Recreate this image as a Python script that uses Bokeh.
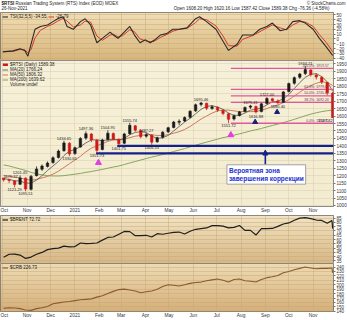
import numpy as np
import pandas as pd
from bokeh.plotting import figure
from bokeh.layouts import column
from bokeh.models import (Range1d, FixedTicker, Label, Legend, LegendItem, Arrow,
                          NormalHead, ColumnDataSource)
from bokeh.core.properties import value, field
from bokeh.embed import file_html
from bokeh.resources import INLINE

FONT = "Liberation Sans"

# ---------------- data ----------------
week_dates = pd.date_range("2020-10-02", periods=61, freq="7D")   # weekly bars (Fridays)

rts_open = [1185, 1172, 1165, 1142, 1183, 1108, 1200, 1243, 1262, 1288,
            1322, 1368, 1418, 1348, 1392, 1452, 1480, 1438, 1375, 1442,
            1483, 1443, 1418, 1482, 1535, 1503, 1465, 1472, 1428, 1457,
            1494, 1524, 1558, 1567, 1592, 1635, 1678, 1686, 1650, 1660,
            1638, 1615, 1580, 1604, 1630, 1660, 1665, 1630, 1684, 1716,
            1700, 1692, 1765, 1820, 1860, 1885, 1910, 1876, 1860, 1826, 1755]
rts_high = [1179.37, 1180, 1170, 1201.45, 1190, 1205, 1262, 1275, 1295, 1330,
            1375, 1434.65, 1425, 1395, 1458, 1497.36, 1486, 1445, 1448, 1504.95,
            1490, 1450, 1488, 1555.74, 1540, 1510, 1487.27, 1478, 1462, 1498,
            1528, 1568, 1578, 1598, 1640, 1684, 1695.46, 1690, 1672, 1665,
            1645, 1622, 1610, 1635, 1665, 1675.41, 1670, 1688, 1727.00, 1722,
            1712, 1768, 1825, 1866, 1890, 1934.21, 1915, 1885, 1866, 1830, 1762]
rts_low = [1160, 1150, 1121.29, 1138, 1095.51, 1100, 1195, 1232, 1255, 1280,
           1315, 1360, 1330.65, 1340, 1388, 1440, 1425, 1351.73, 1370, 1436,
           1438, 1401.75, 1412, 1475, 1495, 1450, 1455, 1406.33, 1420, 1448,
           1486, 1518, 1540, 1560, 1585, 1628, 1665, 1640, 1642, 1628,
           1605, 1551.72, 1570, 1598, 1625, 1648, 1616.88, 1625, 1678, 1695,
           1680.40, 1688, 1758, 1810, 1850, 1875, 1865, 1845, 1815, 1740, 1587.42]
rts_close = [1172, 1168, 1140, 1185, 1110, 1195, 1245, 1265, 1285, 1320,
             1365, 1420, 1345, 1388, 1450, 1482, 1440, 1370, 1440, 1485,
             1445, 1415, 1480, 1538, 1505, 1462, 1475, 1425, 1455, 1492,
             1522, 1560, 1565, 1590, 1632, 1676, 1688, 1652, 1662, 1640,
             1618, 1578, 1602, 1628, 1658, 1668, 1628, 1682, 1718, 1702,
             1690, 1762, 1818, 1858, 1882, 1912, 1878, 1862, 1828, 1758, 1589.38]

ma20 = [1180, 1175, 1165, 1165, 1150, 1150, 1170, 1200, 1235, 1265,
        1295, 1335, 1365, 1375, 1395, 1420, 1440, 1440, 1435, 1440,
        1445, 1440, 1450, 1475, 1490, 1495, 1490, 1465, 1450, 1455,
        1470, 1500, 1530, 1560, 1585, 1615, 1645, 1665, 1670, 1660,
        1645, 1620, 1605, 1605, 1620, 1640, 1645, 1655, 1675, 1695,
        1700, 1715, 1745, 1785, 1825, 1860, 1880, 1885, 1865, 1830, 1766.24]
ma50 = [1200, 1195, 1190, 1185, 1175, 1170, 1175, 1185, 1195, 1210,
        1230, 1255, 1280, 1305, 1330, 1360, 1385, 1400, 1415, 1430,
        1440, 1440, 1445, 1455, 1465, 1470, 1475, 1475, 1470, 1470,
        1475, 1485, 1495, 1510, 1530, 1555, 1580, 1600, 1620, 1635,
        1640, 1640, 1635, 1630, 1630, 1630, 1630, 1640, 1650, 1665,
        1675, 1690, 1710, 1735, 1760, 1785, 1805, 1820, 1830, 1825, 1806.32]
ma200 = [1272, 1265, 1255, 1245, 1235, 1222, 1212, 1205, 1200, 1198,
         1198, 1200, 1205, 1210, 1215, 1222, 1228, 1235, 1242, 1250,
         1258, 1265, 1275, 1285, 1295, 1305, 1315, 1325, 1333, 1342,
         1352, 1362, 1372, 1382, 1393, 1404, 1415, 1425, 1435, 1445,
         1455, 1463, 1472, 1481, 1490, 1500, 1508, 1517, 1527, 1537,
         1546, 1556, 1567, 1578, 1590, 1602, 1613, 1622, 1630, 1636, 1639.62]

# high / low annotations
hi_dates = ["2020-10-02", "2020-10-23", "2020-12-18", "2021-01-15", "2021-02-12",
            "2021-03-12", "2021-04-02", "2021-06-11", "2021-08-13", "2021-09-03", "2021-10-22"]
hi_vals = [1179.37, 1201.45, 1434.65, 1497.36, 1504.95,
           1555.74, 1487.27, 1695.46, 1675.41, 1727.00, 1934.21]
lo_dates = ["2020-10-16", "2020-10-30", "2020-12-25", "2021-01-29", "2021-02-26",
            "2021-04-09", "2021-07-16", "2021-08-20", "2021-09-17", "2021-11-26"]
lo_vals = [1121.29, 1095.51, 1330.65, 1351.73, 1401.75,
           1406.33, 1551.72, 1616.88, 1680.40, 1587.42]

# Fibonacci retracement
fib_low, fib_high = 1551.72, 1919.57
fib_pcts = [0.0, 38.2, 50.0, 61.8, 100.0]
fib_start, fib_end = "2021-07-19", "2021-11-27"
fib_label_date = "2021-11-21"

# support lines
support_levels = [1400, 1350]
support_starts = ["2021-02-24", "2021-01-28"]
support_end = "2021-11-27"

# signal markers
magenta_dates = ["2021-01-31", "2021-07-19"]
magenta_prices = [1287, 1473]
navy_dates = ["2021-08-19", "2021-09-16"]
navy_prices = [1560, 1627]

# note box and arrow
box_date, box_price = "2021-07-14", 1273
box_text = "Вероятная зона\nзавершения коррекции"
arrow_date, arrow_from, arrow_to = "2021-09-01", 1273, 1372

# TSI
tsi_dates = ["2020-10-01", "2020-10-14", "2020-10-23", "2020-10-29", "2020-11-02", "2020-11-06",
             "2020-11-11", "2020-11-18", "2020-11-27", "2020-12-04", "2020-12-10", "2020-12-17",
             "2020-12-22", "2020-12-30", "2021-01-08", "2021-01-14", "2021-01-21", "2021-01-29",
             "2021-02-05", "2021-02-15", "2021-02-19", "2021-02-25", "2021-03-03", "2021-03-12",
             "2021-03-18", "2021-03-25", "2021-04-01", "2021-04-07", "2021-04-12", "2021-04-20",
             "2021-04-28", "2021-05-06", "2021-05-14", "2021-05-24", "2021-06-04", "2021-06-09",
             "2021-06-18", "2021-06-30", "2021-07-09", "2021-07-16", "2021-07-27", "2021-08-03",
             "2021-08-16", "2021-08-25", "2021-09-03", "2021-09-10", "2021-09-20", "2021-09-28",
             "2021-10-06", "2021-10-15", "2021-10-22", "2021-11-01", "2021-11-09", "2021-11-18",
             "2021-11-26"]
tsi_vals = [-27, -25, -20.5, -24, -36, -11, 20, 26, 29, 36, 42, 46, 26, 20, 36, 42, 29, -8,
            1, 14, 8, 1, 11, 26, 8, -8, -2, -8, -3, 8, 11, 20, 20, 23, 42, 46, 36, 20, -5,
            -24, -11, 8, 8, 20, 26, 33, 17, 20, 36, 38, 33, 20, 1, -17, -34.55]
tsi_sig = [-26, -26, -22, -23, -29, -22, 2, 18, 26, 31, 37, 43, 37, 25, 29, 37, 35, 6,
           -3, 8, 10, 4, 7, 19, 15, 0, -4, -6, -5, 3, 9, 16, 20, 22, 34, 42, 40, 27, 6,
           -14, -15, -1, 7, 15, 23, 29, 23, 19, 29, 36, 35, 26, 9, -8, -26.79]

# commodities (weekly + last two days)
cmd_dates = [d.strftime("%Y-%m-%d") for d in week_dates[:-1]] + ["2021-11-25", "2021-11-26"]
brent = [39.3, 42.8, 42.9, 41.8, 37.9, 39.5, 42.8, 44.9, 48.2, 49.3,
         50.0, 52.3, 51.3, 51.8, 55.9, 55.1, 55.4, 55.9, 59.3, 62.4,
         62.9, 66.1, 69.4, 69.2, 64.5, 64.6, 64.9, 62.9, 66.8, 66.1,
         67.3, 68.3, 68.7, 66.4, 69.6, 71.9, 72.7, 73.5, 76.2, 76.2,
         75.6, 73.6, 74.1, 76.3, 70.7, 70.6, 65.2, 72.7, 72.6, 72.9,
         75.3, 78.1, 79.3, 82.4, 84.9, 85.5, 84.4, 82.7, 82.2, 78.9,
         82.2, 72.72]
crb = [146.5, 148, 147.5, 146, 143, 142, 146, 148, 151, 157,
       159, 161, 162, 164, 166, 167, 168, 172, 175, 180,
       185, 189, 190, 188, 186, 182, 184, 186, 190, 196,
       200, 199, 197, 200, 203, 205, 206, 209, 211, 213,
       210, 206, 212, 213, 209, 208, 206, 212, 216, 218,
       221, 227, 230, 234, 237, 240, 238, 236, 237, 237,
       238, 226.73]

month_starts = ["2020-10-01", "2020-11-01", "2020-12-01", "2021-01-01", "2021-02-01",
                "2021-03-01", "2021-04-01", "2021-05-01", "2021-06-01", "2021-07-01",
                "2021-08-01", "2021-09-01", "2021-10-01", "2021-11-01"]
month_labels = ["Oct", "Nov", "Dec", "2021", "Feb", "Mar", "Apr", "May", "Jun", "Jul",
                "Aug", "Sep", "Oct", "Nov"]

tsi_ticks = [-40, -30, -20, -10, 0, 10, 20, 30, 40, 50]
rts_ticks = list(range(1000, 1951, 50))
brent_ticks = [35, 40, 45, 50, 55, 60, 65, 70, 75, 80, 85]
crb_ticks = [140, 150, 160, 170, 180, 190, 200, 210, 220, 230, 240]

# ---------------- helpers ----------------
def ms(d):
    return int(pd.Timestamp(d).timestamp() * 1000)

X0, X1 = ms("2020-09-28"), ms("2021-11-27")
tick_ms = [ms(d) for d in month_starts]
overrides = {t: lab for t, lab in zip(tick_ms, month_labels)}
DAY = 86400000


def add_gradient(p, top, bot, y0, y1):
    n = 64
    t = np.linspace(0, 1, n)[:, None]
    rgb = np.array(bot)[None, :] * (1 - t) + np.array(top)[None, :] * t
    img = np.zeros((n, 1), dtype=np.uint32)
    v = img.view(dtype=np.uint8).reshape((n, 1, 4))
    v[:, 0, 0] = rgb[:, 0]
    v[:, 0, 1] = rgb[:, 1]
    v[:, 0, 2] = rgb[:, 2]
    v[:, 0, 3] = 255
    p.image_rgba(image=[img], x=X0, y=y0, dw=X1 - X0, dh=y1 - y0, level="image")


def make_fig(fh, y0, y1, ticks, xaxis, top, bot, grid_color):
    p = figure(frame_width=333, frame_height=fh,
               x_range=Range1d(X0, X1), y_range=Range1d(y0, y1),
               x_axis_type="datetime",
               x_axis_location="below" if xaxis else None,
               y_axis_location="right", output_backend="svg", toolbar_location=None,
               min_border_left=0, min_border_right=0, min_border_top=0, min_border_bottom=0,
               border_fill_color="white", outline_line_color="#6a6a6a")
    add_gradient(p, top, bot, y0, y1)
    ya = p.yaxis[0]
    ya.ticker = FixedTicker(ticks=ticks)
    ya.major_label_text_font = FONT
    ya.major_label_text_font_size = "4.6px"
    ya.major_label_text_color = "#333333"
    ya.major_label_standoff = 1
    ya.major_tick_out = 2
    ya.major_tick_in = 0
    ya.major_tick_line_color = "#777777"
    ya.minor_tick_line_color = None
    ya.axis_line_color = None
    if xaxis:
        xa = p.xaxis[0]
        xa.ticker = FixedTicker(ticks=tick_ms)
        xa.major_label_overrides = overrides
        xa.major_label_text_font = FONT
        xa.major_label_text_font_size = "4.8px"
        xa.major_label_text_color = "#333333"
        xa.major_label_text_align = "left"
        xa.major_label_standoff = 1
        xa.major_tick_out = 0
        xa.major_tick_in = 0
        xa.minor_tick_line_color = None
        xa.axis_line_color = None
    p.xgrid.ticker = FixedTicker(ticks=tick_ms)
    for g in (p.xgrid, p.ygrid):
        g.grid_line_color = grid_color
        g.grid_line_width = 0.6
        g.grid_line_alpha = 0.8
    return p


def small_legend(p, items, orientation="vertical"):
    lg = Legend(items=items, location="top_left", orientation=orientation,
                label_text_font=FONT, label_text_font_size="4.5px", label_text_color="#222222",
                glyph_height=3, glyph_width=6, label_height=3, label_standoff=2,
                spacing=0, padding=1, margin=1,
                background_fill_alpha=0, border_line_alpha=0)
    p.add_layout(lg)
    return lg

# ---------------- header ----------------
hdr = figure(frame_width=347, frame_height=12, x_range=Range1d(0, 347), y_range=Range1d(0, 12),
             x_axis_location=None, y_axis_location=None, output_backend="svg",
             toolbar_location=None, min_border_left=0, min_border_right=0,
             min_border_top=0, min_border_bottom=0, outline_line_color=None,
             background_fill_color="white", border_fill_color="white")
hdr.xgrid.visible = False
hdr.ygrid.visible = False
hdr_style = dict(text_font=FONT, text_font_size="4.5px", text_color="#222222", text_baseline="middle")
hdr.add_layout(Label(x=1, y=9, text="$RTSI", text_font_style="bold", **hdr_style))
hdr.add_layout(Label(x=15, y=9, text="Russian Trading System (RTS) Index (EOD) MOEX", **hdr_style))
hdr.add_layout(Label(x=1, y=4, text="26-Nov-2021", **hdr_style))
hdr.add_layout(Label(x=345, y=9, text="© StockCharts.com", text_align="right", **hdr_style))
hdr.add_layout(Label(x=334, y=4, text_align="right",
                     text="Open 1608.20  High 1620.16  Low 1587.42  Close 1589.38  Chg -76.36 (-4.58%)",
                     **hdr_style))

# ---------------- TSI ----------------
p_tsi = make_fig(48, -45, 55, tsi_ticks, False, (240, 222, 182), (216, 182, 124), "#c9a874")
tsrc = ColumnDataSource(dict(x=pd.to_datetime(tsi_dates), v=tsi_vals, s=tsi_sig))
r_sig = p_tsi.line("x", "s", source=tsrc, line_color="#d23a2a", line_width=1.0)
r_tsi = p_tsi.line("x", "v", source=tsrc, line_color="#2a2a2a", line_width=1.1)
small_legend(p_tsi, [LegendItem(label="TSI(32,5,5) -34.55,", renderers=[r_tsi]),
                     LegendItem(label="-26.79", renderers=[r_sig])], orientation="horizontal")

# ---------------- main price ----------------
p = make_fig(146, 993, 1973, rts_ticks, True, (247, 241, 217), (244, 236, 208), "#d6ccae")

r200 = p.line(week_dates, ma200, line_color="#86a55c", line_width=1.0)
r50 = p.line(week_dates, ma50, line_color="#c97b5a", line_width=1.0)
r20 = p.line(week_dates, ma20, line_color="#505050", line_width=0.8)

# fib lines
fib_levels = [fib_low + pc / 100.0 * (fib_high - fib_low) for pc in fib_pcts]
fib_src = ColumnDataSource(dict(
    x0=[pd.Timestamp(fib_start)] * len(fib_levels), x1=[pd.Timestamp(fib_end)] * len(fib_levels),
    y=fib_levels, lx=[pd.Timestamp(fib_label_date)] * len(fib_levels),
    t=[f"{pc:.1f}%: {lv:.2f}" for pc, lv in zip(fib_pcts, fib_levels)]))
p.segment(x0="x0", y0="y", x1="x1", y1="y", source=fib_src, line_color="#e0589c", line_width=1.3)
p.text(x="lx", y="y", text="t", source=fib_src, text_font=value(FONT), text_font_size="3.5px",
       text_color="#6a4050", text_align="right", text_baseline="bottom", y_offset=-0.5)

# support lines
sup_src = ColumnDataSource(dict(x0=pd.to_datetime(support_starts),
                                x1=[pd.Timestamp(support_end)] * len(support_levels),
                                y=support_levels))
p.segment(x0="x0", y0="y", x1="x1", y1="y", source=sup_src, line_color="#15208c", line_width=2.2)

# candles
colors = ["#1a1a1a" if c >= o else "#d01818" for o, c in zip(rts_open, rts_close)]
csrc = ColumnDataSource(dict(x=week_dates, o=rts_open, h=rts_high, l=rts_low, c=rts_close,
                             top=[max(a, b) for a, b in zip(rts_open, rts_close)],
                             bot=[min(a, b) for a, b in zip(rts_open, rts_close)],
                             col=colors))
p.segment(x0="x", y0="l", x1="x", y1="h", source=csrc, line_color="col", line_width=0.8)
r_px = p.vbar(x="x", width=3.2 * DAY, top="top", bottom="bot", source=csrc,
              fill_color="col", line_color="col", line_width=0.5)


def aligns(dates):
    out = []
    for d in pd.to_datetime(dates):
        if d < pd.Timestamp("2020-10-10"):
            out.append("left")
        elif d > pd.Timestamp("2021-11-20"):
            out.append("right")
        else:
            out.append("center")
    return out

# annotations of highs / lows
hsrc = ColumnDataSource(dict(x=pd.to_datetime(hi_dates), y=hi_vals,
                             t=[f"{v:.2f}" for v in hi_vals], al=aligns(hi_dates)))
lsrc = ColumnDataSource(dict(x=pd.to_datetime(lo_dates), y=lo_vals,
                             t=[f"{v:.2f}" for v in lo_vals], al=aligns(lo_dates)))
p.text(x="x", y="y", text="t", source=hsrc, text_font=value(FONT), text_font_size="4px",
       text_color="#222222", text_align=field("al"), text_baseline="bottom", y_offset=-1)
p.text(x="x", y="y", text="t", source=lsrc, text_font=value(FONT), text_font_size="4px",
       text_color="#222222", text_align=field("al"), text_baseline="top", y_offset=1)

# signal markers
p.scatter(pd.to_datetime(magenta_dates), magenta_prices, marker="triangle", size=6,
          fill_color="#e23ee0", line_color="#e23ee0")
p.scatter(pd.to_datetime(navy_dates), navy_prices, marker="triangle", size=5,
          fill_color="#16207a", line_color="#16207a")

# arrow + text box
p.add_layout(Arrow(x_start=ms(arrow_date), y_start=arrow_from, x_end=ms(arrow_date), y_end=arrow_to,
                   line_color="#15208c", line_width=1.6,
                   end=NormalHead(size=5, fill_color="#15208c", line_color="#15208c")))
p.add_layout(Label(x=ms(box_date), y=box_price, text=box_text, text_font=FONT,
                   text_font_size="6.5px", text_font_style="bold", text_color="#1c30d0",
                   text_align="left", text_baseline="top",
                   background_fill_color="white", border_line_color="#a0a0a0",
                   padding=2))

vol_dummy = p.scatter(x=[], y=[], marker="square", size=3, color="#555555")
small_legend(p, [LegendItem(label="$RTSI (Daily) 1589.38", renderers=[r_px]),
                 LegendItem(label="MA(20) 1766.24", renderers=[r20]),
                 LegendItem(label="MA(50) 1806.32", renderers=[r50]),
                 LegendItem(label="MA(200) 1639.62", renderers=[r200]),
                 LegendItem(label="Volume undef", renderers=[vol_dummy])])

# ---------------- Brent ----------------
p_br = make_fig(48, 32, 88, brent_ticks, False, (242, 228, 196), (216, 184, 134), "#c9a874")
r_br = p_br.line(pd.to_datetime(cmd_dates), brent, line_color="#1e1e1e", line_width=1.2)
small_legend(p_br, [LegendItem(label="$BRENT 72.72", renderers=[r_br])])

# ---------------- CRB ----------------
p_crb = make_fig(48, 139.5, 248, crb_ticks, True, (238, 220, 182), (214, 176, 122), "#c9a874")
r_crb = p_crb.line(pd.to_datetime(cmd_dates), crb, line_color="#8c5a2c", line_width=1.1)
small_legend(p_crb, [LegendItem(label="$CRB 226.73", renderers=[r_crb])])

layout = column(hdr, p_tsi, p, p_br, p_crb, spacing=0)
open("out.html", "w").write(file_html(layout, INLINE))
